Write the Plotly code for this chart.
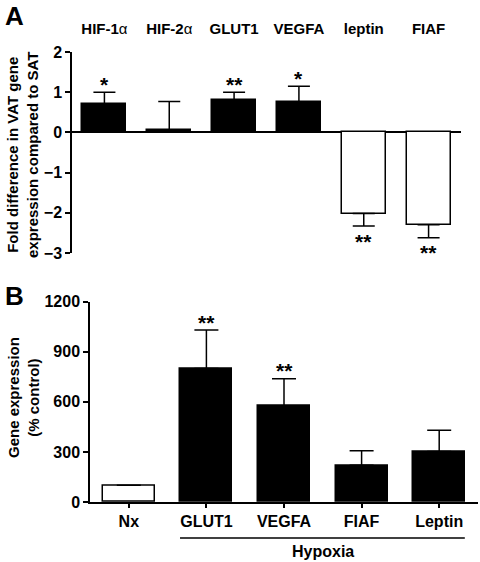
import plotly.graph_objects as go

# ---- Panel A data ----
a_labels = ["<b>HIF-1</b>α", "<b>HIF-2</b>α", "<b>GLUT1</b>", "<b>VEGFA</b>", "<b>leptin</b>", "<b>FIAF</b>"]
a_values = [0.70, 0.05, 0.80, 0.75, -2.02, -2.30]
a_errors = [0.30, 0.72, 0.20, 0.40, 0.31, 0.32]
a_stars = ["*", "", "**", "*", "**", "**"]
a_ticks = [2, 1, 0, -1, -2, -3]

# ---- Panel B data ----
b_labels = ["Nx", "GLUT1", "VEGFA", "FIAF", "Leptin"]
b_values = [100, 800, 575, 220, 302]
b_errors = [0, 230, 163, 87, 128]
b_stars = ["", "**", "**", "", ""]
b_ticks = [0, 300, 600, 900, 1200]

W, H = 480, 562
FONT = "Liberation Sans, Arial, sans-serif"


def px_x(p):
    return p / W


def px_y(p):
    return 1 - p / H


fig = go.Figure()

a_x = list(range(len(a_labels)))
a_colors = ["black" if v >= 0 else "white" for v in a_values]
fig.add_trace(go.Bar(
    x=a_x, y=a_values, width=0.68,
    marker=dict(color=a_colors, line=dict(color="black", width=1.5)),
    error_y=dict(type="data", symmetric=False,
                 array=[e if v >= 0 else 0 for v, e in zip(a_values, a_errors)],
                 arrayminus=[e if v < 0 else 0 for v, e in zip(a_values, a_errors)],
                 color="black", thickness=1.5, width=11),
    xaxis="x", yaxis="y", showlegend=False,
))

b_x = list(range(len(b_labels)))
b_colors = ["white"] + ["black"] * (len(b_labels) - 1)
fig.add_trace(go.Bar(
    x=b_x, y=b_values, width=0.67,
    marker=dict(color=b_colors, line=dict(color="black", width=1.5)),
    error_y=dict(type="data", symmetric=False, array=b_errors, arrayminus=[0] * len(b_errors),
                 color="black", thickness=1.5, width=12),
    xaxis="x2", yaxis="y2", showlegend=False,
))

STAR_FONT = dict(size=21, family=FONT, color="black", weight="bold")
# significance stars (annotations anchored to error-bar ends)
for x, v, e, s in zip(a_x, a_values, a_errors, a_stars):
    if not s:
        continue
    if v >= 0:
        fig.add_annotation(xref="x", yref="y", x=x, y=v + e, text=s, showarrow=False,
                           font=STAR_FONT, yanchor="middle", yshift=8)
    else:
        fig.add_annotation(xref="x", yref="y", x=x, y=v - e, text=s, showarrow=False,
                           font=STAR_FONT, yanchor="middle", yshift=-15)
for x, v, e, s in zip(b_x, b_values, b_errors, b_stars):
    if s:
        fig.add_annotation(xref="x2", yref="y2", x=x, y=v + e, text=s, showarrow=False,
                           font=STAR_FONT, yanchor="middle", yshift=8)

axis_common = dict(linecolor="black", linewidth=1.5, showgrid=False, tickcolor="black",
                   tickwidth=1.5, automargin=False)

fig.update_layout(
    width=W, height=H, margin=dict(l=0, r=0, t=0, b=0),
    paper_bgcolor="white", plot_bgcolor="white",
    font=dict(family=FONT, color="black"),
    bargap=0,
    xaxis=dict(domain=[px_x(72), px_x(461)], range=[-0.5, 5.5], anchor="y", side="top",
               tickmode="array", tickvals=a_x, ticktext=a_labels, ticks="", showline=False,
               showgrid=False, zeroline=False, ticklabelstandoff=14, automargin=False,
               tickfont=dict(size=15, family=FONT, color="black")),
    yaxis=dict(domain=[px_y(253), px_y(52)], range=[-3, 2], anchor="x",
               tickmode="array", tickvals=a_ticks, ticks="outside", ticklen=5, showline=True,
               zeroline=True, zerolinecolor="black", zerolinewidth=1.5,
               tickfont=dict(size=16, family=FONT, weight="bold", color="black"),
               **axis_common),
    xaxis2=dict(domain=[px_x(90), px_x(478)], range=[-0.5, 4.5], anchor="y2",
                tickmode="array", tickvals=b_x, ticktext=b_labels, ticks="outside", ticklen=4,
                showline=True, zeroline=False,
                tickfont=dict(size=16, family=FONT, weight="bold", color="black"),
                **axis_common),
    yaxis2=dict(domain=[px_y(502), px_y(301.7)], range=[0, 1200], anchor="x2",
                tickmode="array", tickvals=b_ticks, ticks="outside", ticklen=5, showline=True,
                zeroline=False,
                tickfont=dict(size=16, family=FONT, weight="bold", color="black"),
                **axis_common),
)

# Hypoxia bracket
fig.add_shape(type="line", xref="x2", yref="paper", x0=1 - 0.34, x1=4 + 0.33,
              y0=px_y(538), y1=px_y(538), line=dict(color="black", width=1.5))
fig.add_annotation(xref="x2", yref="paper", x=2.5, y=px_y(551), text="<b>Hypoxia</b>",
                   showarrow=False, font=dict(size=16, family=FONT, color="black"),
                   xanchor="center", yanchor="middle")

# panel letters
fig.add_annotation(xref="paper", yref="paper", x=px_x(14), y=px_y(16), text="<b>A</b>",
                   showarrow=False, font=dict(size=26, family=FONT, color="black"),
                   xanchor="center", yanchor="middle")
fig.add_annotation(xref="paper", yref="paper", x=px_x(14), y=px_y(296), text="<b>B</b>",
                   showarrow=False, font=dict(size=26, family=FONT, color="black"),
                   xanchor="center", yanchor="middle")

# axis titles
fig.add_annotation(xref="paper", yref="paper", x=px_x(23), y=px_y(155),
                   text="<b>Fold difference in VAT gene<br>expression compared to SAT</b>",
                   textangle=-90, showarrow=False, font=dict(size=15, family=FONT, color="black"),
                   xanchor="center", yanchor="middle")
fig.add_annotation(xref="paper", yref="paper", x=px_x(23), y=px_y(398),
                   text="<b>Gene expression<br>(% control)</b>",
                   textangle=-90, showarrow=False, font=dict(size=15, family=FONT, color="black"),
                   xanchor="center", yanchor="middle")

fig.write_html("out.html", config={"displayModeBar": False},
               post_script="document.body.style.margin='0';document.body.style.overflow='hidden';")
